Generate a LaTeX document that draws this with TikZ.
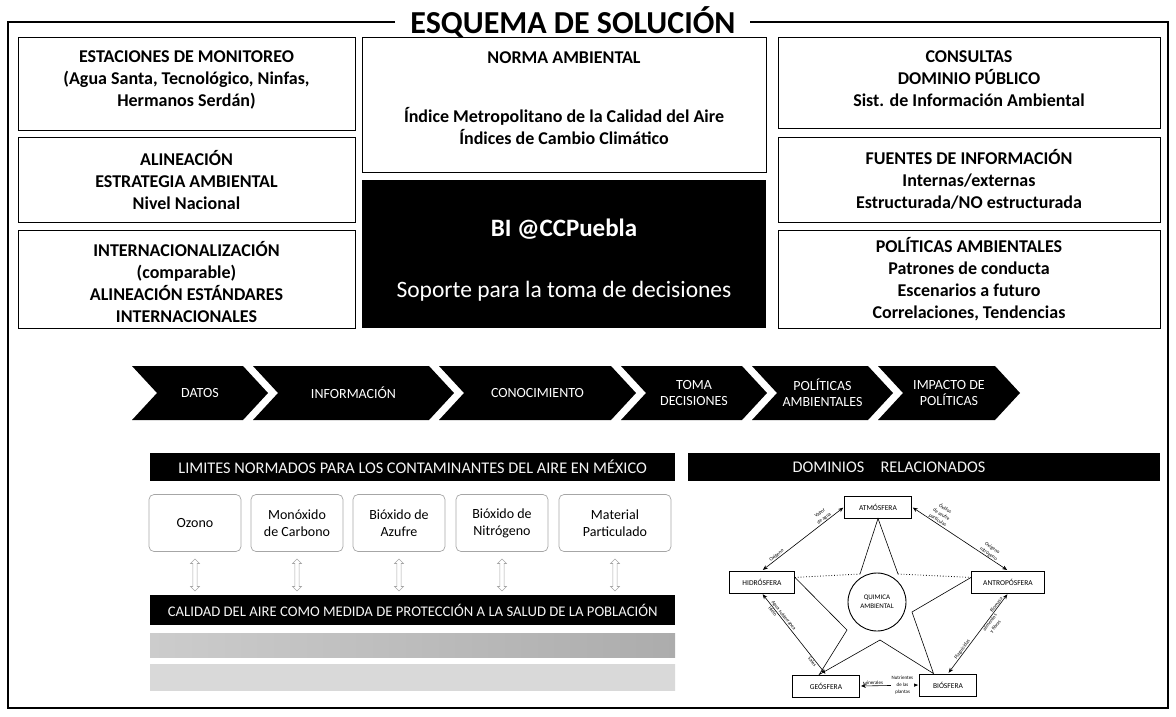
\documentclass[tikz,border=0pt]{standalone}
\usepackage{fontspec}
\setmainfont{Carlito}
\usepackage{tikz}
\usetikzlibrary{arrows.meta,positioning,calc,shapes.arrows}

\tikzset{
  frame/.style={line width=1.8pt},
  infobox/.style={draw,line width=1.1pt,anchor=north west},
  infotext/.style={font=\fontsize{18}{22}\selectfont\bfseries,align=center,anchor=base,inner sep=0pt},
  chevtext/.style={text=white,font=\fontsize{14}{16}\selectfont,align=center},
  blackbar/.style={fill=black,text=white!92!gray,inner sep=0pt,anchor=north west},
  limitbox/.style={draw=gray!70,rounded corners=5pt,line width=0.7pt,minimum height=57pt,align=center,font=\fontsize{14}{17}\selectfont},
  updown/.style={double arrow,shape border rotate=90,draw=gray!70,line width=0.6pt,minimum height=32pt,minimum width=9pt,inner sep=1.5pt,double arrow head extend=2pt},
  sphere/.style={draw,line width=0.9pt,minimum height=22pt,font=\fontsize{7.5}{9}\selectfont},
  flowarrow/.style={{Stealth[length=5pt,width=4pt]}-{Stealth[length=5pt,width=4pt]},line width=0.6pt,shorten <=1pt,shorten >=1pt},
  tinylab/.style={font=\fontsize{5}{6.8}\selectfont,inner sep=0.6pt,align=center,sloped}
}

\begin{document}
\begin{tikzpicture}[x=1pt,y=-1pt]
\useasboundingbox (0,0) rectangle (1176,716);
\node[font=\fontsize{32}{34}\selectfont\bfseries,anchor=base,inner sep=0pt] (titulo) at (573,33) {ESQUEMA DE SOLUCIÓN};
\draw[frame] (395,22) -- (8,22) -- (8,708) -- (1168,708) -- (1168,22) -- (750,22);% frame round the whole scheme

% left column (base anchor = last line)
\node[infobox,minimum width=337pt,minimum height=93pt] (monbox) at (18,37) {};
\node[infotext] (montxt) at (186.5,106) {ESTACIONES DE MONITOREO\\(Agua Santa, Tecnológico, Ninfas,\\Hermanos Serdán)};
\node[infobox,minimum width=337pt,minimum height=85pt] (alibox) at (18,137) {};
\node[infotext] (alitxt) at (186.5,209) {ALINEACIÓN\\ESTRATEGIA AMBIENTAL\\Nivel Nacional};
\node[infobox,minimum width=337pt,minimum height=98pt] (intbox) at (18,230) {};
\node[infotext] (inttxt) at (186.5,322) {INTERNACIONALIZACIÓN\\(comparable)\\ALINEACIÓN ESTÁNDARES\\INTERNACIONALES};

% middle column
\node[infobox,minimum width=404pt,minimum height=135pt] (normbox) at (362,37) {};
\node[infotext] (normtit) at (564,63) {NORMA AMBIENTAL};
\node[infotext] (normtxt) at (564,144) {Índice Metropolitano de la Calidad del Aire\\Índices de Cambio Climático};
\node[fill=black,minimum width=404pt,minimum height=148pt,anchor=north west] (bibox) at (362,180) {};
\node[text=white,font=\fontsize{25}{28}\selectfont\bfseries] (bitit) at (564,229) {BI @CCPuebla};
\node[text=white,font=\fontsize{23.5}{26}\selectfont] (bitxt) at (564,291) {Soporte para la toma de decisiones};

% right column
\node[infobox,minimum width=382pt,minimum height=91pt] (conbox) at (778,37) {};
\node[infotext] (contxt) at (969,106) {CONSULTAS\\DOMINIO PÚBLICO\\Sist. de Información Ambiental};
\node[infobox,minimum width=382pt,minimum height=85pt] (fuebox) at (778,137) {};
\node[infotext] (fuetxt) at (969,208) {FUENTES DE INFORMACIÓN\\Internas/externas\\Estructurada/NO estructurada};
\node[infobox,minimum width=382pt,minimum height=98pt] (polbox) at (778,230) {};
\node[infotext] (poltxt) at (969,318) {POLÍTICAS AMBIENTALES\\Patrones de conducta\\Escenarios a futuro\\Correlaciones, Tendencias};

% chevrons
\foreach \l/\r/\t [count=\i] in {132/243/DATOS,253/429/INFORMACIÓN,439/611/CONOCIMIENTO,621/742/{TOMA\\DECISIONES},752/868/{POLÍTICAS\\AMBIENTALES},878/995/{IMPACTO DE\\POLÍTICAS}}{
  \fill (\l,366) -- (\r,366) -- (\r+25,393) -- (\r,420) -- (\l,420) -- (\l+25,393) -- cycle;
  \node[chevtext] (chev\i) at ({(\l+25+\r)/2},393) {\t};
}

% limits of air pollutants
\node[blackbar,minimum width=525pt,minimum height=28pt,font=\fontsize{16.3}{18}\selectfont] (limbar) at (150,453) {LIMITES NORMADOS PARA LOS CONTAMINANTES DEL AIRE EN MÉXICO};
\node[limitbox,minimum width=92pt] (ozono) at (195,523) {Ozono};
\node[limitbox,minimum width=92pt] (monox) at (297,523) {Monóxido\\de Carbono};
\node[limitbox,minimum width=92pt] (azufre) at (399,523) {Bióxido de\\Azufre};
\node[limitbox,minimum width=92pt] (nitro) at (502,523) {Bióxido de\\Nitrógeno};
\node[limitbox,minimum width=112pt] (partic) at (615,523) {Material\\Particulado};
\foreach \b [count=\i] in {ozono,monox,azufre,nitro,partic}
  \node[updown] (ud\i) at (\b |- 0,575) {};
\node[blackbar,minimum width=525pt,minimum height=30pt,font=\fontsize{14.7}{16}\selectfont] (calbar) at (150,595) {CALIDAD DEL AIRE COMO MEDIDA DE PROTECCIÓN A LA SALUD DE LA POBLACIÓN};
\shade[left color=gray!40,middle color=gray!15,right color=gray!65] (150,633) rectangle (675,657);
\shade[left color=gray!30,middle color=white,right color=gray!30] (150,664) rectangle (675,690);

% related domains
\node[fill=black,minimum width=472pt,minimum height=28pt,anchor=north west] (dombar) at (688,453) {};
\node[text=white!92!gray,font=\fontsize{16.3}{18}\selectfont] (domtxt) at (889,467) {DOMINIOS\quad RELACIONADOS};
\node[sphere,minimum width=67pt] (atm) at (878,507) {ATMÓSFERA};
\node[sphere,minimum width=65pt] (hid) at (762,582) {HIDRÓSFERA};
\node[sphere,minimum width=73pt] (ant) at (1008,582) {ANTROPÓSFERA};
\node[sphere,minimum width=67pt] (geo) at (826,686) {GEÓSFERA};
\node[sphere,minimum width=57pt] (bio) at (948,685) {BIÓSFERA};
\node[circle,draw,line width=0.9pt,minimum size=58pt,font=\fontsize{7}{9}\selectfont,align=center] (quim) at (877,602) {QUIMICA\\AMBIENTAL};

% star round the circle
\coordinate (sL) at ($(hid.north east)!0.3!(hid.south east)$);
\coordinate (sR) at ($(ant.north west)!0.3!(ant.south west)$);
\coordinate (sBL) at ($(geo.north west)!0.4!(geo.north east)$);
\coordinate (sBR) at ($(bio.north west)!0.25!(bio.north east)$);
\draw[line width=0.6pt] (860,574) -- (atm.south) -- (898,574);
\draw[line width=0.6pt] (sR) -- (912,612) -- (sBR) -- (880,640) -- (sBL) -- (847,630) -- (sL);
\draw[line width=0.8pt,dotted] (sL) -- (860,574);
\draw[line width=0.8pt,dotted] (898,574) -- (sR);

% exchanges between spheres
\draw[flowarrow] (hid.north) -- (atm.west)
  node[tinylab,above,pos=0.2] {Oxígeno}
  node[tinylab,above,pos=0.78] {Vapor\\de agua};
\draw[flowarrow] (atm.east) -- (ant.north)
  node[tinylab,above,pos=0.25] {Óxidos\\de azufre\\partículas}
  node[tinylab,above,pos=0.78] {Oxígeno\\nitrógeno};
\draw[flowarrow] (ant.south) -- (bio.north)
  node[tinylab,above,pos=0.16] {Biomasa}
  node[tinylab,below,pos=0.34] {alimentos\\y fibras}
  node[tinylab,above,pos=0.72] {Plaguicidas};
\draw[flowarrow] (geo.east) -- (bio.west)
  node[tinylab,above,pos=0.22] {Minerales}
  node[tinylab,fill=white,pos=0.72] {Nutrientes\\de las\\plantas};
\draw[flowarrow] (hid.south) -- (geo.north)
  node[tinylab,above,pos=0.3] {Agua subterránea}
  node[tinylab,below,pos=0.2] {Hielo}
  node[tinylab,below,pos=0.82] {Sales};
\end{tikzpicture}
\end{document}
